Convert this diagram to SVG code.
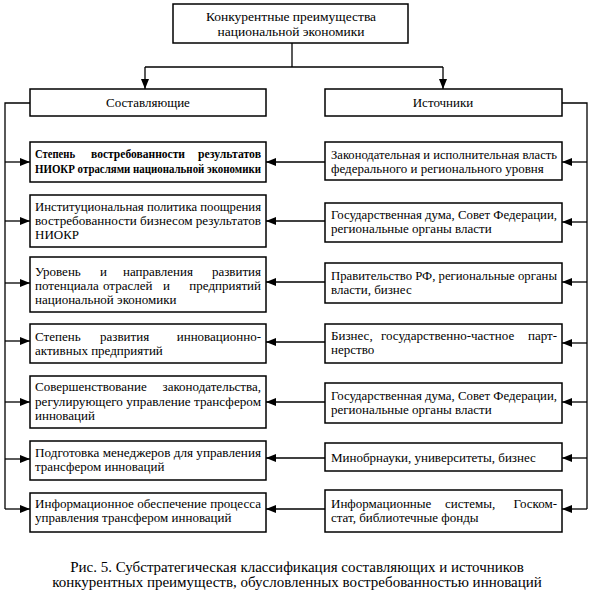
<svg xmlns="http://www.w3.org/2000/svg" width="595" height="593" viewBox="0 0 595 593" font-family="'Liberation Serif', 'DejaVu Serif', serif">
<style>
  .box { fill: #fff; stroke: #000; stroke-width: 1.5; }
  .t { font-family: 'Liberation Serif', 'DejaVu Serif', serif; font-size: 13px; fill: #000; }
  .b { font-weight: bold; }
  .c { text-anchor: middle; }
  .e { text-anchor: end; }
  .top { font-size: 13.5px; }
  .cap { font-size: 15px; }
  .ln { fill: none; stroke: #000; stroke-width: 1.3; }
</style>
<defs>
  <marker id="ah" markerUnits="userSpaceOnUse" markerWidth="10" markerHeight="10" viewBox="0 0 10 10" refX="10" refY="5" orient="auto">
    <path d="M0,1 L10,5 L0,9 Z" fill="#000"/>
  </marker>
</defs>

<g id="connectors">
  <path class="ln" d="M292,43 V67"/>
  <path class="ln" d="M145,67 H443"/>
  <path class="ln" d="M145,67 V89" marker-end="url(#ah)"/>
  <path class="ln" d="M443,67 V89" marker-end="url(#ah)"/>
  <path class="ln" d="M30,103 H5 V509"/>
  <path class="ln" d="M5,162 H30" marker-end="url(#ah)"/>
  <path class="ln" d="M5,221 H30" marker-end="url(#ah)"/>
  <path class="ln" d="M5,283 H30" marker-end="url(#ah)"/>
  <path class="ln" d="M5,341 H30" marker-end="url(#ah)"/>
  <path class="ln" d="M5,402 H30" marker-end="url(#ah)"/>
  <path class="ln" d="M5,459 H30" marker-end="url(#ah)"/>
  <path class="ln" d="M5,509 H30" marker-end="url(#ah)"/>
  <path class="ln" d="M562,103 H587 V509"/>
  <path class="ln" d="M587,162 H562" marker-end="url(#ah)"/>
  <path class="ln" d="M587,222 H562" marker-end="url(#ah)"/>
  <path class="ln" d="M587,282 H562" marker-end="url(#ah)"/>
  <path class="ln" d="M587,343 H562" marker-end="url(#ah)"/>
  <path class="ln" d="M587,402 H562" marker-end="url(#ah)"/>
  <path class="ln" d="M587,458 H562" marker-end="url(#ah)"/>
  <path class="ln" d="M587,509 H562" marker-end="url(#ah)"/>
  <path class="ln" d="M325,162 H266" marker-end="url(#ah)"/>
  <path class="ln" d="M325,221 H266" marker-end="url(#ah)"/>
  <path class="ln" d="M325,282 H266" marker-end="url(#ah)"/>
  <path class="ln" d="M325,342 H266" marker-end="url(#ah)"/>
  <path class="ln" d="M325,402 H266" marker-end="url(#ah)"/>
  <path class="ln" d="M325,458 H266" marker-end="url(#ah)"/>
  <path class="ln" d="M325,509 H266" marker-end="url(#ah)"/>
</g>

<g id="top">
  <rect class="box" x="173" y="4" width="235" height="39"/>
  <text class="t top c" x="291" y="21">Конкурентные преимущества</text>
  <text class="t top c" x="291" y="36">национальной экономики</text>
</g>

<g id="left-header">
  <rect class="box" x="30" y="89" width="236" height="27"/>
  <text class="t c" x="148" y="107">Составляющие</text>
</g>
<g id="right-header">
  <rect class="box" x="325" y="89" width="237" height="27"/>
  <text class="t c" x="443" y="107">Источники</text>
</g>

<g id="L1">
  <rect class="box" x="30" y="142" width="236" height="40"/>
  <text class="t b" x="35" y="158" textLength="40" lengthAdjust="spacingAndGlyphs">Степень</text>
  <text class="t b" x="91" y="158" textLength="94" lengthAdjust="spacingAndGlyphs">востребованности</text>
  <text class="t b" x="198" y="158" textLength="63" lengthAdjust="spacingAndGlyphs">результатов</text>
  <text class="t b" x="35" y="173" textLength="226" lengthAdjust="spacingAndGlyphs">НИОКР отраслями национальной экономики</text>
</g>
<g id="L2">
  <rect class="box" x="30" y="195" width="236" height="52"/>
  <text class="t" x="35" y="211" textLength="226" lengthAdjust="spacingAndGlyphs">Институциональная политика поощрения</text>
  <text class="t" x="35" y="225" textLength="226" lengthAdjust="spacingAndGlyphs">востребованности бизнесом результатов</text>
  <text class="t" x="35" y="239">НИОКР</text>
</g>
<g id="L3">
  <rect class="box" x="30" y="257" width="236" height="55"/>
  <text class="t" x="35" y="276">Уровень</text>
  <text class="t" x="100" y="276">и</text>
  <text class="t" x="123" y="276">направления</text>
  <text class="t e" x="261" y="276">развития</text>
  <text class="t" x="35" y="290">потенциала</text>
  <text class="t" x="103" y="290">отраслей</text>
  <text class="t" x="163" y="290">и</text>
  <text class="t e" x="261" y="290">предприятий</text>
  <text class="t" x="35" y="304">национальной экономики</text>
</g>
<g id="L4">
  <rect class="box" x="30" y="324" width="236" height="39"/>
  <text class="t" x="35" y="341">Степень</text>
  <text class="t" x="100" y="341">развития</text>
  <text class="t e" x="261" y="341">инновационно-</text>
  <text class="t" x="35" y="355">активных предприятий</text>
</g>
<g id="L5">
  <rect class="box" x="30" y="376" width="236" height="52"/>
  <text class="t" x="35" y="391">Совершенствование</text>
  <text class="t e" x="261" y="391">законодательства,</text>
  <text class="t" x="35" y="406" textLength="226" lengthAdjust="spacingAndGlyphs">регулирующего управление трансфером</text>
  <text class="t" x="35" y="420">инноваций</text>
</g>
<g id="L6">
  <rect class="box" x="30" y="441" width="236" height="39"/>
  <text class="t" x="35" y="457" textLength="226" lengthAdjust="spacingAndGlyphs">Подготовка менеджеров для управления</text>
  <text class="t" x="35" y="471">трансфером инноваций</text>
</g>
<g id="L7">
  <rect class="box" x="30" y="493" width="236" height="39"/>
  <text class="t" x="35" y="508" textLength="226" lengthAdjust="spacingAndGlyphs">Информационное обеспечение процесса</text>
  <text class="t" x="35" y="522">управления трансфером инноваций</text>
</g>

<g id="R1">
  <rect class="box" x="325" y="142" width="237" height="38"/>
  <text class="t" x="331" y="159" textLength="226" lengthAdjust="spacingAndGlyphs">Законодательная и исполнительная власть</text>
  <text class="t" x="331" y="173">федерального и регионального уровня</text>
</g>
<g id="R2">
  <rect class="box" x="325" y="203" width="237" height="39"/>
  <text class="t" x="331" y="219" textLength="226" lengthAdjust="spacingAndGlyphs">Государственная дума, Совет Федерации,</text>
  <text class="t" x="331" y="233">региональные органы власти</text>
</g>
<g id="R3">
  <rect class="box" x="325" y="263" width="237" height="40"/>
  <text class="t" x="331" y="280" textLength="226" lengthAdjust="spacingAndGlyphs">Правительство РФ, региональные органы</text>
  <text class="t" x="331" y="294">власти, бизнес</text>
</g>
<g id="R4">
  <rect class="box" x="325" y="324" width="237" height="39"/>
  <text class="t" x="331" y="340">Бизнес,</text>
  <text class="t" x="381" y="340">государственно-частное</text>
  <text class="t e" x="557" y="340">парт-</text>
  <text class="t" x="331" y="354">нерство</text>
</g>
<g id="R5">
  <rect class="box" x="325" y="383" width="237" height="40"/>
  <text class="t" x="331" y="400" textLength="226" lengthAdjust="spacingAndGlyphs">Государственная дума, Совет Федерации,</text>
  <text class="t" x="331" y="414">региональные органы власти</text>
</g>
<g id="R6">
  <rect class="box" x="325" y="443" width="237" height="28"/>
  <text class="t" x="331" y="462">Минобрнауки, университеты, бизнес</text>
</g>
<g id="R7">
  <rect class="box" x="325" y="490" width="237" height="42"/>
  <text class="t" x="331" y="508">Информационные</text>
  <text class="t" x="445" y="508">системы,</text>
  <text class="t e" x="557" y="508">Госком-</text>
  <text class="t" x="331" y="522">стат, библиотечные фонды</text>
</g>

<g id="caption">
  <text class="t cap c" x="297" y="572">Рис. 5. Субстратегическая классификация составляющих и источников</text>
  <text class="t cap c" x="297" y="587">конкурентных преимуществ, обусловленных востребованностью инноваций</text>
</g>
</svg>
